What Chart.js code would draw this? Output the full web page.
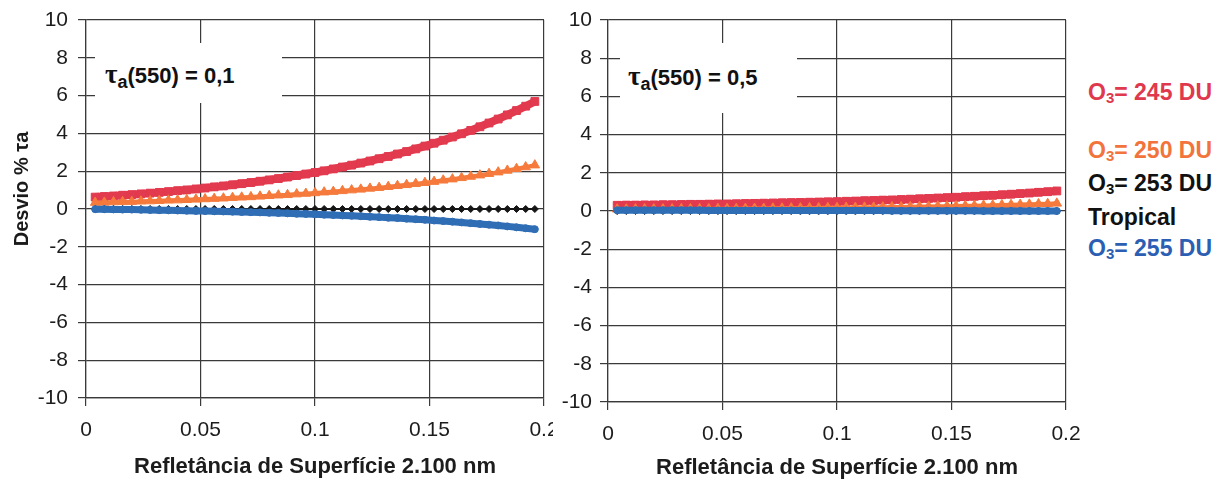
<!DOCTYPE html>
<html lang="pt">
<head>
<meta charset="UTF-8"/>
<title>Desvio % τa</title>
<style>
    html, body {
        margin: 0;
        width: 1227px;
        height: 481px;
        background: #fff;
        overflow: hidden;
        font-family: "Liberation Sans", Arial, sans-serif;
    }
    .box { position: absolute; }
    .note {
        position: absolute;
        background: #fff;
    }
    .note .txt {
        position: absolute;
        white-space: nowrap;
        font-weight: bold;
        font-size: 22px;
        line-height: 22px;
        color: #111;
    }
    .tau { font-family: "Liberation Serif", "DejaVu Serif", serif; font-size: 27px; }
    .note sub { font-size: 18px; vertical-align: -5px; line-height: 0; }
    #ytitle {
        position: absolute;
        left: -79px;
        top: 177px;
        width: 200px;
        height: 24px;
        line-height: 24px;
        text-align: center;
        font-weight: bold;
        font-size: 20px;
        color: #1a1a1a;
        transform: rotate(-90deg);
    }
    .leg {
        position: absolute;
        left: 1088px;
        white-space: nowrap;
        font-weight: bold;
        font-size: 23px;
        line-height: 23px;
    }
    .leg sub { font-size: 15px; vertical-align: -3px; line-height: 0; }
</style>
</head>
<body>

<div class="box" style="left:0;top:0;width:553px;height:481px"><canvas id="chartLeft"></canvas></div>
<div class="box" style="left:553px;top:0;width:532px;height:481px"><canvas id="chartRight"></canvas></div>

<div id="ytitle">Desvio % τa</div>

<div class="note" style="left:95px;top:43px;width:187px;height:60px">
    <div class="txt" style="left:10px;top:20px"><span class="tau">τ</span><sub>a</sub>(550) = 0,1</div>
</div>
<div class="note" style="left:620px;top:43px;width:177px;height:70px">
    <div class="txt" style="left:8px;top:22px"><span class="tau">τ</span><sub>a</sub>(550) = 0,5</div>
</div>

<div class="leg" style="top:81px;color:#e0384c">O<sub>3</sub>= 245 DU</div>
<div class="leg" style="top:139px;color:#f2743c">O<sub>3</sub>= 250 DU</div>
<div class="leg" style="top:172px;color:#111">O<sub>3</sub>= 253 DU</div>
<div class="leg" style="top:206px;color:#111">Tropical</div>
<div class="leg" style="top:237px;color:#2c5fb3">O<sub>3</sub>= 255 DU</div>

<script src="https://cdn.jsdelivr.net/npm/chart.js"></script>
<script>
// surface reflectance at 2100 nm (x axis)
const reflectance = [0.004, 0.008, 0.012, 0.016, 0.02, 0.024, 0.028, 0.032, 0.036, 0.04,
    0.044, 0.048, 0.052, 0.056, 0.06, 0.064, 0.068, 0.072, 0.076, 0.08,
    0.084, 0.088, 0.092, 0.096, 0.1, 0.104, 0.108, 0.112, 0.116, 0.12,
    0.124, 0.128, 0.132, 0.136, 0.14, 0.144, 0.148, 0.152, 0.156, 0.16,
    0.164, 0.168, 0.172, 0.176, 0.18, 0.184, 0.188, 0.192, 0.196];

const xTicks = [0, 0.05, 0.1, 0.15, 0.2];
const yTicks = [-10, -8, -6, -4, -2, 0, 2, 4, 6, 8, 10];

// tau_a(550) = 0.1
const left245 = [0.63, 0.66, 0.69, 0.73, 0.76, 0.80, 0.84, 0.88, 0.92, 0.97,
    1.01, 1.06, 1.11, 1.17, 1.22, 1.28, 1.34, 1.40, 1.47, 1.54,
    1.61, 1.69, 1.77, 1.85, 1.93, 2.02, 2.12, 2.22, 2.32, 2.43,
    2.54, 2.66, 2.78, 2.91, 3.04, 3.18, 3.33, 3.48, 3.64, 3.81,
    3.98, 4.16, 4.35, 4.55, 4.76, 4.98, 5.21, 5.44, 5.69];
const left250 = [0.34, 0.35, 0.37, 0.38, 0.39, 0.41, 0.42, 0.44, 0.46, 0.47,
    0.49, 0.51, 0.53, 0.55, 0.57, 0.60, 0.62, 0.64, 0.67, 0.70,
    0.73, 0.75, 0.79, 0.82, 0.85, 0.89, 0.92, 0.96, 1.00, 1.04,
    1.09, 1.13, 1.18, 1.23, 1.28, 1.34, 1.39, 1.45, 1.52, 1.58,
    1.65, 1.72, 1.79, 1.87, 1.95, 2.04, 2.13, 2.22, 2.32];
const left253 = [0, 0, 0, 0, 0, 0, 0, 0, 0, 0,
    0, 0, 0, 0, 0, 0, 0, 0, 0, 0,
    0, 0, 0, 0, 0, 0, 0, 0, 0, 0,
    0, 0, 0, 0, 0, 0, 0, 0, 0, 0,
    0, 0, 0, 0, 0, 0, 0, 0, 0];
const left255 = [-0.01, -0.01, -0.02, -0.03, -0.03, -0.04, -0.05, -0.06, -0.07, -0.08,
    -0.09, -0.10, -0.11, -0.12, -0.13, -0.14, -0.16, -0.17, -0.18, -0.20,
    -0.21, -0.23, -0.25, -0.26, -0.28, -0.30, -0.32, -0.34, -0.36, -0.38,
    -0.41, -0.43, -0.46, -0.48, -0.51, -0.54, -0.57, -0.61, -0.64, -0.67,
    -0.71, -0.75, -0.79, -0.83, -0.87, -0.92, -0.97, -1.02, -1.07];

// tau_a(550) = 0.5
const right245 = [0.30, 0.31, 0.31, 0.32, 0.32, 0.33, 0.33, 0.34, 0.35, 0.35,
    0.36, 0.37, 0.37, 0.38, 0.39, 0.40, 0.41, 0.42, 0.43, 0.44,
    0.45, 0.46, 0.47, 0.48, 0.49, 0.51, 0.52, 0.54, 0.55, 0.57,
    0.58, 0.60, 0.62, 0.64, 0.66, 0.68, 0.70, 0.72, 0.75, 0.77,
    0.80, 0.82, 0.85, 0.88, 0.91, 0.94, 0.98, 1.01, 1.05];
const right250 = [0.09, 0.09, 0.10, 0.10, 0.10, 0.10, 0.10, 0.11, 0.11, 0.11,
    0.11, 0.12, 0.12, 0.12, 0.13, 0.13, 0.13, 0.14, 0.14, 0.15,
    0.15, 0.16, 0.16, 0.17, 0.17, 0.18, 0.18, 0.19, 0.19, 0.20,
    0.21, 0.21, 0.22, 0.23, 0.24, 0.25, 0.25, 0.26, 0.27, 0.28,
    0.29, 0.30, 0.32, 0.33, 0.34, 0.35, 0.37, 0.38, 0.40];
const right253 = [0, 0, 0, 0, 0, 0, 0, 0, 0, 0,
    0, 0, 0, 0, 0, 0, 0, 0, 0, 0,
    0, 0, 0, 0, 0, 0, 0, 0, 0, 0,
    0, 0, 0, 0, 0, 0, 0, 0, 0, 0,
    0, 0, 0, 0, 0, 0, 0, 0, 0];
const right255 = [0.04, 0.04, 0.04, 0.04, 0.04, 0.04, 0.04, 0.04, 0.04, 0.04,
    0.03, 0.03, 0.03, 0.03, 0.03, 0.03, 0.03, 0.03, 0.03, 0.03,
    0.02, 0.02, 0.02, 0.02, 0.02, 0.02, 0.02, 0.02, 0.02, 0.02,
    0.01, 0.01, 0.01, 0.01, 0.01, 0.01, 0.01, 0.01, 0.01, 0.01,
    0, 0, 0, 0, 0, 0, 0, 0, 0];

const GRID = '#3a3a3a';
const TEXT = '#1c1c1c';

function toPoints(values) {
    return reflectance.map((x, i) => ({x: x, y: values[i]}));
}

// one dataset per ozone amount; later series are painted on top (lower order)
function buildDatasets(s245, s250, s253, s255) {
    return [
        {label: 'O3= 245 DU', data: toPoints(s245), borderColor: '#e23a4e', backgroundColor: '#e23a4e',
         borderWidth: 8, pointStyle: 'rect', pointRadius: 5.5, pointBorderWidth: 1, order: 4},
        {label: 'O3= 250 DU', data: toPoints(s250), borderColor: '#f57a3c', backgroundColor: '#f57a3c',
         borderWidth: 4, pointStyle: 'triangle', pointRadius: 5.5, pointBorderWidth: 1, order: 3},
        {label: 'O3= 253 DU Tropical', data: toPoints(s253), borderColor: '#151515', backgroundColor: '#151515',
         borderWidth: 2, pointStyle: 'rectRot', pointRadius: 3.5, pointBorderWidth: 1, order: 2},
        {label: 'O3= 255 DU', data: toPoints(s255), borderColor: '#2f6db5', backgroundColor: '#2f6db5',
         borderWidth: 7, pointStyle: 'circle', pointRadius: 3.5, pointBorderWidth: 1, order: 1}
    ];
}

function makeChart(id, datasets, g) {
    const ctx = document.getElementById(id).getContext('2d');
    return new Chart(ctx, {
        type: 'line',
        data: {datasets: datasets},
        options: {
            responsive: true,
            maintainAspectRatio: false,
            animation: false,
            layout: {padding: {top: g.top, right: g.right, left: 0, bottom: 0}},
            elements: {line: {tension: 0}},
            plugins: {legend: {display: false}, tooltip: {enabled: false}},
            scales: {
                x: {
                    type: 'linear',
                    min: 0,
                    max: 0.2,
                    afterBuildTicks: s => { s.ticks = xTicks.map(v => ({value: v})); },
                    afterFit: s => { s.height = g.xHeight; s.paddingLeft = 0; s.paddingRight = 0; },
                    grid: {color: GRID, lineWidth: 1.2, tickLength: 8, tickColor: GRID},
                    border: {color: GRID, width: 1.2},
                    ticks: {
                        color: TEXT,
                        font: {family: '"Liberation Sans", Arial', size: 21},
                        padding: g.xPad,
                        maxRotation: 0,
                        callback: v => String(+Number(v).toFixed(2))
                    },
                    title: {
                        display: true,
                        text: 'Refletância de Superfície 2.100 nm',
                        color: TEXT,
                        font: {family: '"Liberation Sans", Arial', size: 22, weight: 'bold'},
                        padding: {top: 0, bottom: g.titlePad}
                    }
                },
                y: {
                    min: -10,
                    max: 10,
                    afterBuildTicks: s => { s.ticks = yTicks.map(v => ({value: v})); },
                    afterFit: s => { s.width = g.yWidth; s.paddingTop = 0; s.paddingBottom = 0; },
                    grid: {color: GRID, lineWidth: 1.2, tickLength: 8, tickColor: GRID},
                    border: {color: GRID, width: 1.2},
                    ticks: {
                        color: TEXT,
                        font: {family: '"Liberation Sans", Arial', size: 21},
                        padding: g.yPad,
                        callback: v => String(v)
                    }
                }
            }
        }
    });
}

makeChart('chartLeft', buildDatasets(left245, left250, left253, left255),
    {top: 20, right: 9, xHeight: 83, yWidth: 86, xPad: 12, yPad: 10, titlePad: 1});
makeChart('chartRight', buildDatasets(right245, right250, right253, right255),
    {top: 20, right: 19, xHeight: 79, yWidth: 55, xPad: 12, yPad: 8, titlePad: 0});
</script>
</body>
</html>
